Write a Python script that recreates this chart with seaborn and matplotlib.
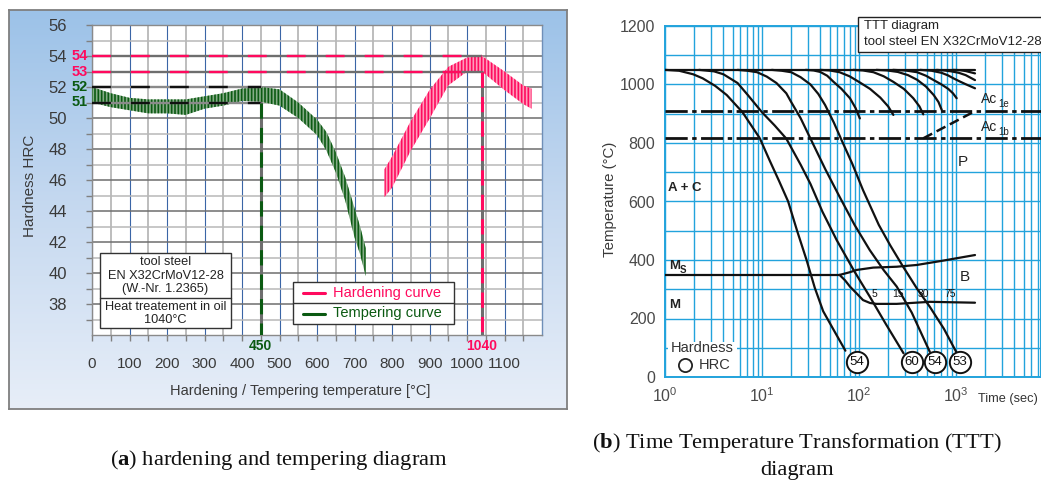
import numpy as np
import pandas as pd
import matplotlib
matplotlib.use("Agg")
import matplotlib.pyplot as plt
import matplotlib.transforms as mtrans
from matplotlib.patches import Rectangle
from matplotlib.colors import LinearSegmentedColormap
import seaborn as sns

# ---------------- (a) hardening and tempering diagram ----------------
temper_temp = [0, 50, 100, 150, 200, 250, 300, 350, 400, 450, 500, 550, 600, 625, 650, 675, 700, 715, 730]
temper_hi = [52.0, 51.6, 51.3, 51.2, 51.2, 51.2, 51.4, 51.6, 51.9, 52.0, 51.85, 51.0, 49.9, 49.1, 47.8, 46.2, 44.2, 43.0, 41.6]
temper_lo = [51.0, 50.7, 50.5, 50.3, 50.3, 50.2, 50.6, 50.8, 51.1, 51.05, 50.8, 50.0, 48.9, 47.9, 46.5, 44.7, 42.3, 41.2, 39.8]
harden_temp = [780, 800, 850, 900, 950, 1000, 1040, 1100, 1150, 1172]
harden_hi = [46.7, 47.5, 49.8, 51.8, 53.3, 53.9, 54.0, 53.0, 52.1, 51.9]
harden_lo = [44.9, 45.5, 47.9, 49.95, 52.1, 53.0, 53.0, 51.8, 50.9, 50.6]
harden_sel_temp = 1040
harden_sel_hrc = [53, 54]
temper_sel_temp = 450
temper_sel_hrc = [51, 52]
a_xticks = list(range(0, 1200, 100))
a_yticks = list(range(38, 57, 2))

# ---------------- (b) TTT diagram ----------------
aust_temp = 1050
aust_end_time = 1570
ac1e_temp = 909
ac1b_temp = 816
ac1_link_time = [460, 1570]
ac1_link_temp = [816, 909]

c1_time = [1.0, 1.4, 1.95, 2.45, 3.3, 4.33, 6.3, 9.5, 12, 15, 18.6, 23, 28.8, 35, 42.7, 55, 72.4]
c1_temp = [1050, 1047, 1035, 1021, 995, 964, 905, 816, 740, 670, 600, 500, 400, 305, 225, 160, 90]
c2_time = [2.24, 3.2, 4.0, 5.6, 7.1, 10, 13.5, 17.8, 25.1, 31.6, 42, 58.9, 90, 129, 190, 288]
c2_temp = [1050, 1045, 1035, 1005, 965, 905, 860, 815, 725, 660, 565, 468, 360, 275, 180, 81]
c3_time = [5.6, 7.1, 8.9, 11.2, 14.1, 17.8, 20, 25, 31.6, 45, 63.1, 90, 129, 180, 245, 350, 537]
c3_temp = [1050, 1047, 1042, 1027, 1005, 970, 940, 885, 815, 710, 616, 520, 434, 365, 309, 220, 86]
c4_time = [12.6, 16, 20, 25, 31.6, 38, 44.7, 55, 66.1, 85, 110, 160, 210, 285, 400, 537, 750, 1023]
c4_temp = [1050, 1047, 1042, 1025, 1000, 968, 930, 870, 810, 730, 639, 520, 450, 377, 300, 240, 165, 81]
c5_time = [28.2, 34, 39.8, 47, 54.3, 66, 80.7, 92, 102]
c5_temp = [1050, 1048, 1043, 1030, 1010, 985, 953, 920, 884]
c6_time = [39.8, 50, 63.1, 80, 102, 130, 166, 200, 226]
c6_temp = [1050, 1048, 1042, 1028, 1007, 985, 955, 925, 896]
c7_time = [87.1, 110, 141, 180, 226, 290, 363, 420, 460]
c7_temp = [1050, 1048, 1042, 1028, 1009, 985, 953, 925, 898]
c8_time = [151, 195, 251, 320, 398, 490, 589, 660, 713]
c8_temp = [1050, 1048, 1043, 1032, 1016, 993, 964, 940, 913]
c9_time = [224, 300, 398, 490, 589, 710, 832, 930, 1016]
c9_temp = [1050, 1048, 1042, 1030, 1015, 1000, 985, 970, 953]
c10_time = [427, 560, 708, 830, 955, 1100, 1259, 1570]
c10_temp = [1050, 1047, 1040, 1031, 1020, 1010, 1001, 987]
c11_time = [631, 760, 891, 1070, 1259, 1570]
c11_temp = [1050, 1048, 1045, 1040, 1032, 1015]
c12_time = [933, 1100, 1259, 1570]
c12_temp = [1050, 1049, 1046, 1038]

ms_time = [1, 63.1]
ms_temp = [349, 349]
bs_time = [63.1, 80, 94.6, 140, 245, 394, 741, 1570]
bs_temp = [349, 358, 366, 374, 377, 383, 398, 417]
bf_time = [63.1, 72, 80.7, 95, 110, 130, 151, 245, 537, 1570]
bf_temp = [349, 330, 309, 285, 263, 253, 250, 250, 257, 254]
bainite_pct = ["5", "15", "30", "75"]
bainite_pct_time = [143, 252, 457, 867]
bainite_pct_temp = 284
hard_vals = ["54", "60", "54", "53"]
hard_time = [94.6, 349, 608, 1099]
hard_temp = [52, 52, 52, 52]
b_yticks = list(range(0, 1201, 200))

# ---------------- style ----------------
sns.set_theme(style="white")
plt.rcParams['font.family'] = ['Liberation Sans', 'DejaVu Sans']
plt.rcParams['mathtext.fontset'] = 'custom'
plt.rcParams['mathtext.rm'] = 'Liberation Serif'
plt.rcParams['mathtext.bf'] = 'Liberation Serif:bold'
plt.rcParams['hatch.linewidth'] = 1.2

W, H = 1041, 483
fig = plt.figure(figsize=(W / 100, H / 100), dpi=100)
fig.patch.set_facecolor('white')


def fbox(x0, y0, x1, y1):
    return [x0 / W, 1 - y1 / H, (x1 - x0) / W, (y1 - y0) / H]


RED = '#FF0A5E'
GREEN = '#0B5A12'
TXT = '#3A3A3A'

# background frame of panel (a)
bg = fig.add_axes(fbox(9, 10, 567, 409))
grad = np.linspace(0, 1, 256)[:, None]
cmap = LinearSegmentedColormap.from_list('bg', ['#9CC2E8', '#C6D9F0', '#E7EEF8'])
bg.imshow(grad, aspect='auto', cmap=cmap, extent=[0, 1, 0, 1], origin='upper')
bg.set_xticks([]); bg.set_yticks([])
for s in bg.spines.values():
    s.set_color('#7F7F7F'); s.set_linewidth(1.3)

# ---------------- panel (a) ----------------
A0 = (92, 25, 542, 335)
ax = fig.add_axes(fbox(*A0))
ax.set_facecolor('white')


def a_fx(px):
    return (px - A0[0]) / (A0[2] - A0[0])


def a_fy(py):
    return (A0[3] - py) / (A0[3] - A0[1])


ax.set_xlim(0, 1200)
ax.set_ylim(36, 56)
ax.set_xticks(a_xticks)
ax.set_xticks(np.arange(50, 1200, 100), minor=True)
ax.set_yticks(a_yticks)
ax.set_yticks(np.arange(37, 56, 2), minor=True)
ax.set_axisbelow(True)
ax.grid(True, which='major', axis='x', color='#3A65A6', lw=0.8)
ax.grid(True, which='minor', axis='x', color='#ABABAB', lw=1.1)
ax.grid(True, which='major', axis='y', color='#6E6E6E', lw=1.1)
ax.grid(True, which='minor', axis='y', color='#B8B8B8', lw=1.1)
ax.tick_params(axis='x', which='both', direction='out', length=4, width=1, color='#808080',
               bottom=True, labelsize=11, labelcolor=TXT, pad=12)
ax.tick_params(axis='y', which='both', direction='out', length=4, width=1, color='#808080',
               left=True, labelsize=12, labelcolor=TXT, pad=14)
for s in ax.spines.values():
    s.set_color('#8A8A8A'); s.set_linewidth(1.0)
ax.spines['right'].set_color('#6F8FB8')

# bands
ax.fill_between(temper_temp, temper_lo, temper_hi, facecolor='#86AC88', edgecolor=GREEN,
                hatch='|' * 5, linewidth=0, zorder=3)
ax.fill_between(harden_temp, harden_lo, harden_hi, facecolor='#FF9DBB', edgecolor=RED,
                hatch='|' * 5, linewidth=0, zorder=3)

# reference lines hardening
for h in harden_sel_hrc:
    ax.plot([0, harden_sel_temp], [h, h], color='#6E6E6E', lw=1.7, zorder=4, solid_capstyle='butt')
    ax.plot([0, harden_sel_temp], [h, h], color=RED, lw=1.7, dashes=(8, 8.5), zorder=4)
ax.plot([harden_sel_temp] * 2, [min(harden_sel_hrc), 36], color='#6E6E6E', lw=2.2, zorder=4)
ax.plot([harden_sel_temp] * 2, [min(harden_sel_hrc), 36], color=RED, lw=2.2, dashes=(5, 3), zorder=4)
# reference lines tempering
for h in temper_sel_hrc:
    ax.plot([0, temper_sel_temp], [h, h], color='#8A8A8A', lw=1.7, zorder=4)
    ax.plot([0, temper_sel_temp], [h, h], color='#111111', lw=1.7, dashes=(8, 8.5), zorder=4)
ax.plot([temper_sel_temp] * 2, [min(temper_sel_hrc), 36], color='#6E6E6E', lw=2.2, zorder=4)
ax.plot([temper_sel_temp] * 2, [min(temper_sel_hrc), 36], color=GREEN, lw=2.2, dashes=(5, 3), zorder=4)

yl_tr = mtrans.blended_transform_factory(ax.transAxes, ax.transData)
for h in harden_sel_hrc:
    ax.text(a_fx(88), h, str(h), transform=yl_tr, ha='right', va='center', color=RED,
            fontsize=10.5, fontweight='bold')
for h in temper_sel_hrc:
    ax.text(a_fx(88), h, str(h), transform=yl_tr, ha='right', va='center', color=GREEN,
            fontsize=10.5, fontweight='bold')
xl_tr = mtrans.blended_transform_factory(ax.transData, ax.transAxes)
ax.text(temper_sel_temp, a_fy(346), str(temper_sel_temp), transform=xl_tr, ha='center', va='center',
        color=GREEN, fontsize=10, fontweight='bold')
ax.text(harden_sel_temp, a_fy(346), str(harden_sel_temp), transform=xl_tr, ha='center', va='center',
        color=RED, fontsize=10, fontweight='bold')

ax.set_xlabel('Hardening / Tempering temperature [°C]', fontsize=10.5, color=TXT, va='center')
ax.xaxis.set_label_coords(a_fx(300), a_fy(391))
ax.set_ylabel('Hardness HRC', fontsize=11, color=TXT, va='center')
ax.yaxis.set_label_coords(a_fx(30), a_fy(186))

# info box
ax.add_patch(Rectangle((a_fx(100), a_fy(328)), a_fx(231) - a_fx(100), a_fy(253) - a_fy(328),
                       transform=ax.transAxes, facecolor='white', edgecolor='#333333', lw=1.0, zorder=6))
ax.plot([a_fx(100), a_fx(231)], [a_fy(298)] * 2, transform=ax.transAxes, color='#333333', lw=1.0, zorder=7)
for txt, py in [('tool steel', 262), ('EN X32CrMoV12-28', 276), ('(W.-Nr. 1.2365)', 289),
                ('Heat treatement in oil', 307), ('1040°C', 320)]:
    ax.text(a_fx(165.5), a_fy(py), txt, transform=ax.transAxes, ha='center', va='center',
            fontsize=9.2, color='#222222', zorder=8)

# legend box
ax.add_patch(Rectangle((a_fx(293), a_fy(324)), a_fx(454) - a_fx(293), a_fy(282) - a_fy(324),
                       transform=ax.transAxes, facecolor='white', edgecolor='#333333', lw=1.0, zorder=6))
ax.plot([a_fx(293), a_fx(454)], [a_fy(303)] * 2, transform=ax.transAxes, color='#333333', lw=1.0, zorder=7)
for lab, col, py in [('Hardening curve', RED, 292.5), ('Tempering curve', GREEN, 313.5)]:
    ax.plot([a_fx(303), a_fx(325)], [a_fy(py)] * 2, transform=ax.transAxes, color=col, lw=2.2, zorder=7)
    ax.text(a_fx(333), a_fy(py), lab, transform=ax.transAxes, ha='left', va='center',
            fontsize=10.5, color=col, zorder=8)

# ---------------- panel (b) ----------------
B0 = (665, 26, 1041, 377)
ax2 = fig.add_axes(fbox(*B0))
ax2.set_facecolor('white')


def b_fx(px):
    return (px - B0[0]) / (B0[2] - B0[0])


def b_fy(py):
    return (B0[3] - py) / (B0[3] - B0[1])


CYAN = '#22A3DC'
ax2.set_xscale('log')
ax2.set_xlim(1, 10 ** ((B0[2] - B0[0]) / 97.0))
ax2.set_ylim(0, 1200)
ax2.set_yticks(b_yticks)
ax2.set_yticks(np.arange(100, 1200, 200), minor=True)
ax2.set_xticks([1, 10, 100, 1000])
ax2.set_axisbelow(True)
ax2.grid(True, which='both', axis='both', color=CYAN, lw=1.0)
ax2.tick_params(which='both', length=0)
ax2.tick_params(axis='y', labelsize=11.5, labelcolor='#4A4A4A', pad=7)
ax2.tick_params(axis='x', labelsize=11.5, labelcolor='#4A4A4A', pad=7)
for s in ax2.spines.values():
    s.set_color(CYAN); s.set_linewidth(1.4)

rows = []
curves = [(c1_time, c1_temp), (c2_time, c2_temp), (c3_time, c3_temp), (c4_time, c4_temp),
          (c5_time, c5_temp), (c6_time, c6_temp), (c7_time, c7_temp), (c8_time, c8_temp),
          (c9_time, c9_temp), (c10_time, c10_temp), (c11_time, c11_temp), (c12_time, c12_temp),
          (ms_time, ms_temp), (bs_time, bs_temp), (bf_time, bf_temp),
          ([1, aust_end_time], [aust_temp, aust_temp])]
for i, (tt, TT) in enumerate(curves):
    for j, (a, b) in enumerate(zip(tt, TT)):
        rows.append({'curve': i, 'order': j, 'time': a, 'temp': b})
df = pd.DataFrame(rows)
sns.lineplot(data=df, x='time', y='temp', units='curve', estimator=None, sort=False,
             color='#111111', linewidth=1.6, legend=False, ax=ax2, zorder=4)
ax2.set_xlabel('')
ax2.set_ylabel('Temperature (°C)', fontsize=10.8, color=TXT, va='center')
ax2.yaxis.set_label_coords(b_fx(610), b_fy(199))

ax2.axhline(ac1e_temp, color='#111111', lw=2.0, dashes=(8, 1.6, 1.6, 1.6), zorder=4)
ax2.axhline(ac1b_temp, color='#111111', lw=2.0, dashes=(8, 1.6, 1.6, 1.6), zorder=4)
ax2.plot(ac1_link_time, ac1_link_temp, color='#111111', lw=1.8, dashes=(4, 2), zorder=4)

sns.scatterplot(x=hard_time, y=hard_temp, s=235, color='white', edgecolor='#111111',
                linewidth=1.4, zorder=6, ax=ax2, legend=False)
for v, t, T in zip(hard_vals, hard_time, hard_temp):
    ax2.text(t, T, v, ha='center', va='center', fontsize=9.5, color='#111111', zorder=7)
for v, t in zip(bainite_pct, bainite_pct_time):
    ax2.text(t, bainite_pct_temp, v, ha='center', va='center', fontsize=7.5, color='#111111', zorder=7)

# region labels
ax2.text(b_fx(668), b_fy(188), 'A + C', transform=ax2.transAxes, ha='left', va='center',
         fontsize=9.5, color='#222222', fontweight='bold', zorder=7)
ax2.text(b_fx(669), b_fy(266), 'M', transform=ax2.transAxes, ha='left', va='center',
         fontsize=9.5, color='#222222', fontweight='bold', zorder=7)
ax2.text(b_fx(680), b_fy(270), 'S', transform=ax2.transAxes, ha='left', va='center',
         fontsize=7, color='#222222', fontweight='bold', zorder=7)
ax2.text(b_fx(669), b_fy(305), 'M', transform=ax2.transAxes, ha='left', va='center',
         fontsize=9.5, color='#222222', fontweight='bold', zorder=7)
ax2.text(b_fx(963), b_fy(162), 'P', transform=ax2.transAxes, ha='center', va='center',
         fontsize=11, color='#222222', zorder=7)
ax2.text(b_fx(965), b_fy(277), 'B', transform=ax2.transAxes, ha='center', va='center',
         fontsize=11, color='#222222', zorder=7)
for py, sub in [(99, '1e'), (127, '1b')]:
    ax2.text(b_fx(981), b_fy(py), 'Ac', transform=ax2.transAxes, ha='left', va='center',
             fontsize=10, color='#222222', zorder=7)
    ax2.text(b_fx(998), b_fy(py + 5), sub, transform=ax2.transAxes, ha='left', va='center',
             fontsize=7, color='#222222', zorder=7)

# hardness key
ax2.add_patch(Rectangle((b_fx(668), b_fy(376)), b_fx(737) - b_fx(668), b_fy(342) - b_fy(376),
                        transform=ax2.transAxes, facecolor='white', edgecolor='none', zorder=5))
ax2.text(b_fx(702), b_fy(348), 'Hardness', transform=ax2.transAxes, ha='center', va='center',
         fontsize=10.5, color='#333333', zorder=7)
ax2.plot([b_fx(685)], [b_fy(365)], transform=ax2.transAxes, marker='o', ms=9.5,
         mfc='white', mec='#222222', mew=1.3, zorder=7)
ax2.text(b_fx(715), b_fy(365), 'HRC', transform=ax2.transAxes, ha='center', va='center',
         fontsize=10.5, color='#333333', zorder=7)

# title box
fig.add_artist(Rectangle((858 / W, 1 - 52 / H), 0.5, 35 / H, transform=fig.transFigure,
                         facecolor='white', edgecolor='#222222', lw=1.0, zorder=5))
fig.text(864 / W, 1 - 26 / H, 'TTT diagram', ha='left', va='center', fontsize=9.5, color='#222222', zorder=6)
fig.text(864 / W, 1 - 42 / H, 'tool steel EN X32CrMoV12-28', ha='left', va='center',
         fontsize=9.5, color='#222222', zorder=6)
fig.text(1038 / W, 1 - 399 / H, 'Time (sec)', ha='right', va='center', fontsize=9.2, color='#333333')

# captions
fig.text(279 / W, 1 - 460 / H, r'($\mathbf{a}$) hardening and tempering diagram', ha='center',
         va='center', fontsize=16.2, family='Liberation Serif', color='#111111')
fig.text(797 / W, 1 - 443 / H, r'($\mathbf{b}$) Time Temperature Transformation (TTT)', ha='center',
         va='center', fontsize=16.2, family='Liberation Serif', color='#111111')
fig.text(797 / W, 1 - 470 / H, 'diagram', ha='center', va='center', fontsize=16.2,
         family='Liberation Serif', color='#111111')

fig.savefig('out.png', dpi=100)
